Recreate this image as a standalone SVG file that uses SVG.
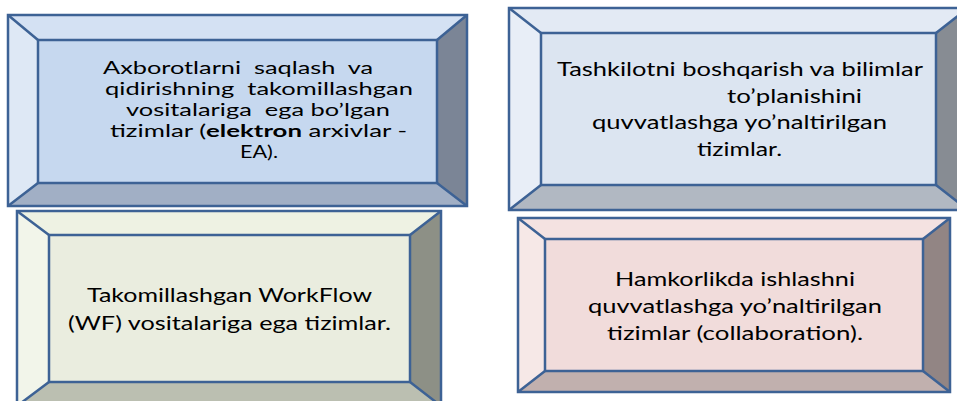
<svg xmlns="http://www.w3.org/2000/svg" width="957" height="401" viewBox="0 0 957 401">
<style>
.s{stroke:#3d6295;stroke-width:2.5;stroke-linejoin:miter}
.t{font-family:Lato,"Open Sans","Liberation Sans",sans-serif;font-size:18.5px;fill:#000;white-space:pre}
.t1{font-size:17.5px}
.b1t{fill:#d4e1f3}.b1l{fill:#dee8f5}.b1r{fill:#7b8596}.b1b{fill:#a1afc5}.b1i{fill:#c6d8ef}
.b2t{fill:#e3eaf4}.b2l{fill:#e8eef7}.b2r{fill:#878c93}.b2b{fill:#b1b8c2}.b2i{fill:#dce5f1}
.b3t{fill:#eef2e3}.b3l{fill:#f2f5ea}.b3r{fill:#8d9086}.b3b{fill:#bbbfb1}.b3i{fill:#eaeddf}
.b4t{fill:#f4e2e1}.b4l{fill:#f6e8e7}.b4r{fill:#928584}.b4b{fill:#c1b0ae}.b4i{fill:#f1dcdb}
</style>
<g id="box1">
<polygon class="b1t" points="8,15 467,15 437,40 38,40"/>
<polygon class="b1l" points="8,15 38,40 38,183 8,206"/>
<polygon class="b1r" points="467,15 467,206 437,183 437,40"/>
<polygon class="b1b" points="8,206 38,183 437,183 467,206"/>
<rect class="b1i" x="38" y="40" width="399" height="143"/>
<g class="s" fill="none">
<rect x="8" y="15" width="459" height="191"/>
<rect x="38" y="40" width="399" height="143"/>
<path d="M8,15L38,40M467,15L437,40M8,206L38,183M467,206L437,183"/>
</g>
<text class="t t1" xml:space="preserve"><tspan x="103" y="74" textLength="270" lengthAdjust="spacingAndGlyphs">Axborotlarni  saqlash  va</tspan><tspan x="105" y="95" textLength="308" lengthAdjust="spacingAndGlyphs">qidirishning  takomillashgan</tspan><tspan x="126" y="116" textLength="264" lengthAdjust="spacingAndGlyphs">vositalariga  ega bo’lgan</tspan></text>
<text class="t t1" x="110" y="137" textLength="297" lengthAdjust="spacingAndGlyphs">tizimlar (<tspan font-weight="bold">elektron</tspan> arxivlar -</text>
<text class="t t1" x="240" y="158" textLength="38" lengthAdjust="spacingAndGlyphs">EA).</text>
</g>
<g id="box2">
<polygon class="b2t" points="509,8 968,8 936,33 541,33"/>
<polygon class="b2l" points="509,8 541,33 541,185 509,210"/>
<polygon class="b2r" points="968,8 968,210 936,185 936,33"/>
<polygon class="b2b" points="509,210 541,185 936,185 968,210"/>
<rect class="b2i" x="541" y="33" width="395" height="152"/>
<g class="s" fill="none">
<rect x="509" y="8" width="459" height="202"/>
<rect x="541" y="33" width="395" height="152"/>
<path d="M509,8L541,33M968,8L936,33M509,210L541,185M968,210L936,185"/>
</g>
<text class="t"><tspan x="557" y="76" textLength="366" lengthAdjust="spacingAndGlyphs">Tashkilotni boshqarish va bilimlar</tspan><tspan x="727" y="103" textLength="135" lengthAdjust="spacingAndGlyphs">to’planishini</tspan><tspan x="592" y="129" textLength="295" lengthAdjust="spacingAndGlyphs">quvvatlashga yo’naltirilgan</tspan><tspan x="697" y="156" textLength="85" lengthAdjust="spacingAndGlyphs">tizimlar.</tspan></text>
</g>
<g id="box3">
<polygon class="b3t" points="17,211 441,211 410,235 49,235"/>
<polygon class="b3l" points="17,211 49,235 49,382 17,406"/>
<polygon class="b3r" points="441,211 441,406 410,382 410,235"/>
<polygon class="b3b" points="17,406 49,382 410,382 441,406"/>
<rect class="b3i" x="49" y="235" width="361" height="147"/>
<g class="s" fill="none">
<rect x="17" y="211" width="424" height="195"/>
<rect x="49" y="235" width="361" height="147"/>
<path d="M17,211L49,235M441,211L410,235M17,406L49,382M441,406L410,382"/>
</g>
<text class="t"><tspan x="87" y="302" textLength="285" lengthAdjust="spacingAndGlyphs">Takomillashgan WorkFlow</tspan><tspan x="68" y="330" textLength="323" lengthAdjust="spacingAndGlyphs">(WF) vositalariga ega tizimlar.</tspan></text>
</g>
<g id="box4">
<polygon class="b4t" points="518,218 950,218 923,239 545,239"/>
<polygon class="b4l" points="518,218 545,239 545,371 518,392"/>
<polygon class="b4r" points="950,218 950,392 923,371 923,239"/>
<polygon class="b4b" points="518,392 545,371 923,371 950,392"/>
<rect class="b4i" x="545" y="239" width="378" height="132"/>
<g class="s" fill="none">
<rect x="518" y="218" width="432" height="174"/>
<rect x="545" y="239" width="378" height="132"/>
<path d="M518,218L545,239M950,218L923,239M518,392L545,371M950,392L923,371"/>
</g>
<text class="t"><tspan x="615" y="286" textLength="240" lengthAdjust="spacingAndGlyphs">Hamkorlikda ishlashni</tspan><tspan x="588" y="313" textLength="294" lengthAdjust="spacingAndGlyphs">quvvatlashga yo’naltirilgan</tspan><tspan x="607" y="340" textLength="256" lengthAdjust="spacingAndGlyphs">tizimlar (collaboration).</tspan></text>
</g>
<g id="connectors"/>
</svg>
